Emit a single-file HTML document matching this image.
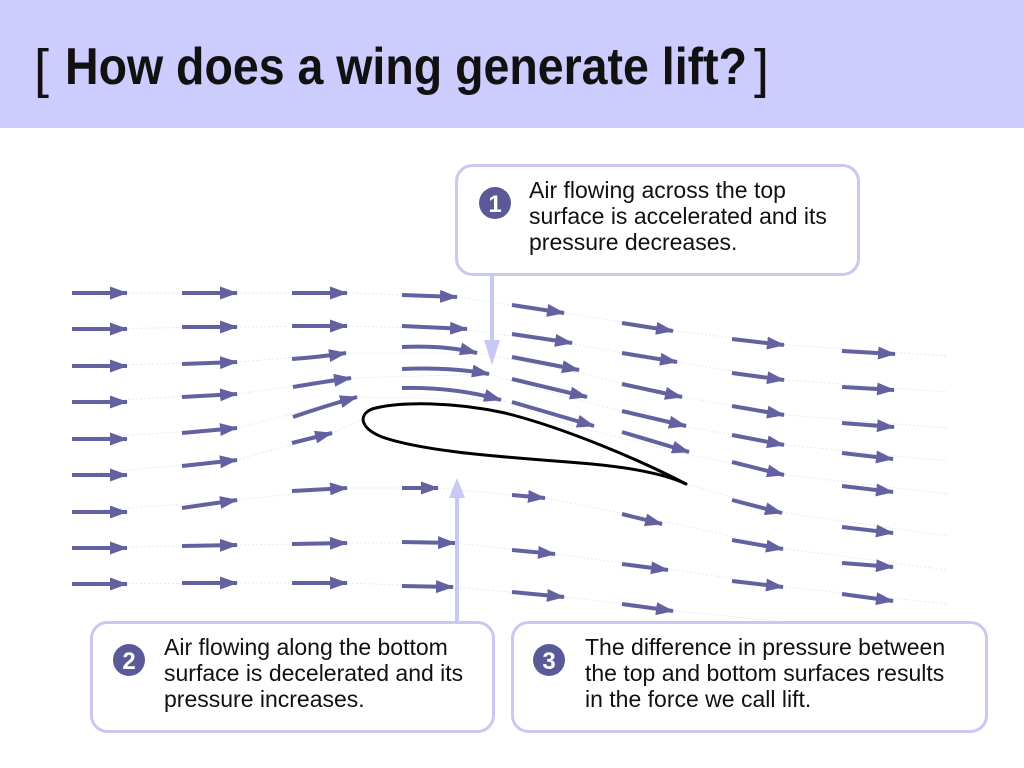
<!DOCTYPE html>
<html><head><meta charset="utf-8"><style>
html,body{margin:0;padding:0;background:#fff;}
svg{display:block;}
</style></head><body>
<svg width="1024" height="768" viewBox="0 0 1024 768" xmlns="http://www.w3.org/2000/svg" font-family="Liberation Sans, Arial, sans-serif">
<defs>
<marker id="ah" markerUnits="userSpaceOnUse" markerWidth="18" markerHeight="14" refX="17" refY="6.5" orient="auto">
<path d="M0,0 L18,6.5 L0,13 z" fill="#6262a0"/>
</marker>
</defs>
<rect x="0" y="0" width="1024" height="128" fill="#ccccff"/>
<text x="34" y="87" font-size="54" fill="#111">[</text>
<text x="65" y="84" font-size="52" font-weight="bold" fill="#111" textLength="682" lengthAdjust="spacingAndGlyphs">How does a wing generate lift?</text>
<text x="754" y="87" font-size="54" fill="#111">]</text>

<g stroke="#e2e2ea" stroke-width="0.8" stroke-dasharray="2,2" fill="none">
<polyline points="72,293 237,293 347,293 457,297 567,313 677,331 787,345 947,356"/>
<polyline points="72,329 237,327 347,326 457,329 567,343 677,362 787,380 947,392"/>
<polyline points="72,366 237,362 347,353 477,353 567,370 677,396 787,415 947,428"/>
<polyline points="72,402 237,394 351,378 489,374 567,397 677,425 787,445 947,461"/>
<polyline points="72,439 237,428 357,397 501,400 567,424 677,452 787,475 947,494"/>
<polyline points="72,475 237,460 332,433 362,420"/>
<polyline points="686,484 787,513 947,536"/>
<polyline points="72,512 237,500 347,488 438,488 545,498 677,524 787,549 947,570"/>
<polyline points="72,548 237,545 347,543 455,543 555,554 677,570 787,587 947,604"/>
<polyline points="72,584 237,583 347,583 453,587 567,597 677,611 787,622"/>
</g>

<g stroke="#6262a0" stroke-width="4" fill="none" marker-end="url(#ah)">
<line x1="72" y1="293" x2="127" y2="293"/>
<line x1="72" y1="329" x2="127" y2="329"/>
<line x1="72" y1="366" x2="127" y2="366"/>
<line x1="72" y1="402" x2="127" y2="402"/>
<line x1="72" y1="439" x2="127" y2="439"/>
<line x1="72" y1="475" x2="127" y2="475"/>
<line x1="72" y1="512" x2="127" y2="512"/>
<line x1="72" y1="548" x2="127" y2="548"/>
<line x1="72" y1="584" x2="127" y2="584"/>
<line x1="182" y1="293" x2="237" y2="293"/>
<line x1="182" y1="327" x2="237" y2="327"/>
<line x1="182" y1="364" x2="237" y2="362"/>
<line x1="182" y1="397" x2="237" y2="394"/>
<line x1="182" y1="433" x2="237" y2="428"/>
<line x1="182" y1="466" x2="237" y2="460"/>
<line x1="182" y1="508" x2="237" y2="500"/>
<line x1="182" y1="546" x2="237" y2="545"/>
<line x1="182" y1="583" x2="237" y2="583"/>
<line x1="292" y1="293" x2="347" y2="293"/>
<line x1="292" y1="326" x2="347" y2="326"/>
<path d="M292,359 Q320,357 346,353"/>
<path d="M293,387 Q322,382 351,378"/>
<path d="M293,417 Q325,406 357,397"/>
<line x1="292" y1="443" x2="332" y2="433"/>
<line x1="292" y1="491" x2="347" y2="488"/>
<line x1="292" y1="544" x2="347" y2="543"/>
<line x1="292" y1="583" x2="347" y2="583"/>
<line x1="402" y1="295" x2="457" y2="297"/>
<line x1="402" y1="326" x2="467" y2="329"/>
<path d="M402,347 Q445,345 477,353"/>
<path d="M402,369 Q450,367 489,374"/>
<path d="M402,388 Q455,387 501,400"/>
<line x1="402" y1="488" x2="438" y2="488"/>
<line x1="402" y1="542" x2="455" y2="543"/>
<line x1="402" y1="586" x2="453" y2="587"/>
<line x1="512" y1="305" x2="564" y2="313"/>
<line x1="512" y1="334" x2="572" y2="343"/>
<line x1="512" y1="357" x2="579" y2="370"/>
<line x1="512" y1="379" x2="587" y2="397"/>
<line x1="512" y1="402" x2="594" y2="426"/>
<line x1="512" y1="495" x2="545" y2="498"/>
<line x1="512" y1="550" x2="555" y2="554"/>
<line x1="512" y1="592" x2="564" y2="597"/>
<line x1="622" y1="323" x2="673" y2="331"/>
<line x1="622" y1="353" x2="677" y2="362"/>
<line x1="622" y1="384" x2="682" y2="397"/>
<line x1="622" y1="411" x2="686" y2="426"/>
<line x1="622" y1="432" x2="689" y2="452"/>
<line x1="622" y1="514" x2="662" y2="524"/>
<line x1="622" y1="564" x2="668" y2="570"/>
<line x1="622" y1="604" x2="673" y2="611"/>
<line x1="732" y1="339" x2="784" y2="345"/>
<line x1="732" y1="373" x2="784" y2="380"/>
<line x1="732" y1="406" x2="784" y2="415"/>
<line x1="732" y1="435" x2="784" y2="445"/>
<line x1="732" y1="462" x2="784" y2="475"/>
<line x1="732" y1="500" x2="782" y2="513"/>
<line x1="732" y1="540" x2="783" y2="549"/>
<line x1="732" y1="581" x2="783" y2="587"/>
<line x1="842" y1="351" x2="895" y2="354"/>
<line x1="842" y1="387" x2="894" y2="390"/>
<line x1="842" y1="423" x2="894" y2="427"/>
<line x1="842" y1="453" x2="893" y2="459"/>
<line x1="842" y1="486" x2="893" y2="492"/>
<line x1="842" y1="527" x2="893" y2="533"/>
<line x1="842" y1="563" x2="893" y2="567"/>
<line x1="842" y1="594" x2="893" y2="601"/>
</g>

<path d="M686,484 C640,460 565,428 505,413 C455,402 400,401 372,409 C358,415 360,428 382,437 C425,452 505,457 580,463 C630,467 665,474 686,484 Z" fill="none" stroke="#000" stroke-width="3" stroke-linejoin="round"/>

<g fill="#c8c8f4">
<rect x="490" y="274" width="4" height="70"/>
<path d="M484,340 L500,340 L492,365 Z"/>
<rect x="455" y="498" width="4" height="126"/>
<path d="M449,498 L465,498 L457,478 Z"/>
</g>

<g fill="#fff" stroke="#c8c8f0" stroke-width="3">
<rect x="456.5" y="165.5" width="402" height="109" rx="16"/>
<rect x="91.5" y="622.5" width="402" height="109" rx="16"/>
<rect x="512.5" y="622.5" width="474" height="109" rx="16"/>
</g>

<g fill="#5a5a98">
<circle cx="495" cy="203" r="16"/>
<circle cx="129" cy="660" r="16"/>
<circle cx="549" cy="660" r="16"/>
</g>
<g fill="#fff" font-weight="bold" font-size="24" text-anchor="middle">
<text x="495" y="212">1</text>
<text x="129" y="669">2</text>
<text x="549" y="669">3</text>
</g>

<g fill="#111" font-size="23">
<text x="529" y="198">Air flowing across the top</text>
<text x="529" y="224">surface is accelerated and its</text>
<text x="529" y="250">pressure decreases.</text>
<text x="164" y="655">Air flowing along the bottom</text>
<text x="164" y="681">surface is decelerated and its</text>
<text x="164" y="707">pressure increases.</text>
<text x="585" y="655">The difference in pressure between</text>
<text x="585" y="681">the top and bottom surfaces results</text>
<text x="585" y="707">in the force we call lift.</text>
</g>
</svg>
</body></html>
